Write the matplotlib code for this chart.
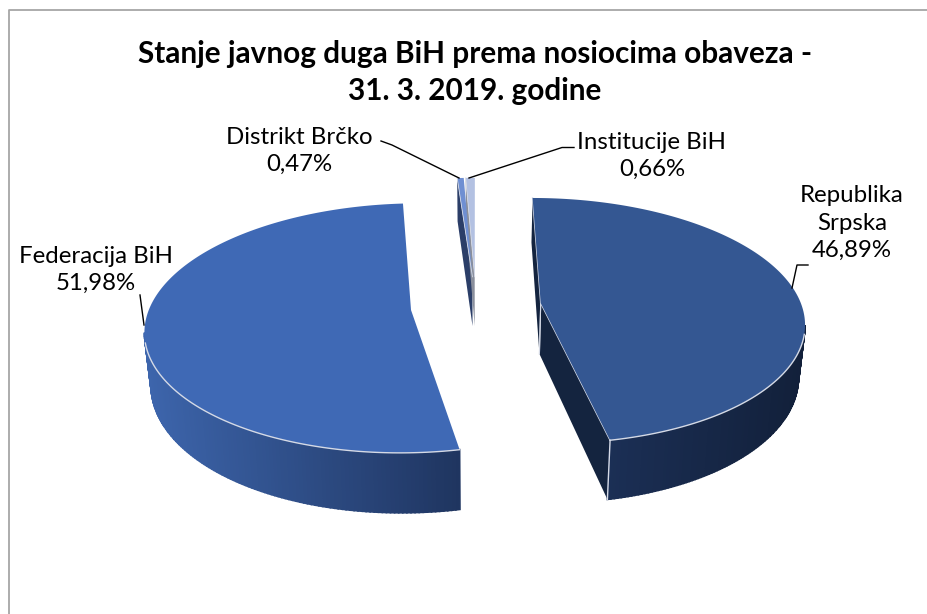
import numpy as np
import matplotlib
matplotlib.use("Agg")
import matplotlib.pyplot as plt
from matplotlib.colors import to_rgb

plt.rcParams['font.family'] = ['Lato', 'DejaVu Sans']

names = ['Republika\nSrpska', 'Federacija BiH', 'Distrikt Brčko', 'Institucije BiH']
values = [46.89, 51.98, 0.47, 0.66]
top_colors = ['#345792', '#3F69B5', '#6F8FD2', '#B3C1E2']
wall_left = ['#1B2F55', '#3D65AC', '#2B3E68', '#2B3E68']
wall_right = ['#12203A', '#1F3560', '#2B3E68', '#2B3E68']
cut_color = ['#14243F', '#1F3560', '#2B3E68', '#8A8F9C']

# pie geometry in pixels (the picture is a tilted pie with perspective)
cx, cy = 476, 306
rx, ry = 261, 121
depth = 51
explode = 0.25
persp = 0.144
bottom_shrink = 0.98


def project(X, Y, bottom=False):
    p = 1 / (1 + persp * Y)
    scale = bottom_shrink if bottom else 1
    x = cx + rx * X * p * scale
    y = cy - ry * Y * p
    if bottom:
        y = y + depth * p
    return x, y


fig = plt.figure(figsize=(9.28, 6.14), dpi=100)
ax = fig.add_axes([0, 0, 1, 1])
ax.set_xlim(0, 928)
ax.set_ylim(614, 0)
ax.axis('off')

# chart frame
ax.plot([9, 9, 928], [614, 10, 10], color='#A6A6A6', lw=1.3)

ax.text(475, 54, 'Stanje javnog duga BiH prema nosiocima obaveza -', ha='center', va='center',
        fontsize=21.4, fontweight='bold', color='black')
ax.text(475, 91, '31. 3. 2019. godine', ha='center', va='center',
        fontsize=21.4, fontweight='bold', color='black')

edge = '#D5DAE6'
for i in [2, 3, 0, 1]:
    a0 = np.radians(sum(values[:i]) * 3.6)
    a1 = np.radians(sum(values[:i + 1]) * 3.6)
    mid = (a0 + a1) / 2
    tipX, tipY = explode * np.sin(mid), explode * np.cos(mid)
    t = np.linspace(a0, a1, 240)
    X = tipX + np.sin(t)
    Y = tipY + np.cos(t)

    # cut faces
    for j in [0, -1]:
        xa, ya = project(np.array([tipX, X[j]]), np.array([tipY, Y[j]]))
        xb, yb = project(np.array([tipX, X[j]]), np.array([tipY, Y[j]]), bottom=True)
        visible = (i == 0) or (i == 2 and j == 0) or (i == 3 and j == 0)
        if visible:
            ax.fill([xa[0], xa[1], xb[1], xb[0]], [ya[0], ya[1], yb[1], yb[0]],
                    color=cut_color[i], lw=0, zorder=2 + i)
            if i == 0:
                ax.plot(xa, ya, color=edge, lw=1, zorder=4 + i)
                ax.plot([xa[0], xb[0]], [ya[0], yb[0]], color=edge, lw=0.8, zorder=4 + i)

    # outer wall with a left to right gradient, only below the widest point of the rim
    xt, yt = project(X, Y)
    xd, yd = project(X, Y, bottom=True)
    front = []
    if i == 0:
        front = np.arange(np.argmax(xt), len(xt))
    if i == 1:
        front = np.arange(0, np.argmin(xt) + 1)
    if len(front) > 1:
        left = xt[front].min()
        right = xt[front].max()
        c0 = np.array(to_rgb(wall_left[i]))
        c1 = np.array(to_rgb(wall_right[i]))
        for k in range(len(front) - 1):
            m, n = front[k], front[k + 1]
            f = ((xt[m] + xt[n]) / 2 - left) / (right - left)
            ax.fill([xt[m], xt[n], xd[n], xd[m]], [yt[m], yt[n], yd[n], yd[m]],
                    color=c0 + (c1 - c0) * f, lw=1.2, zorder=2 + i)
        # the light rim line fades out near the sides
        rim = front[6:] if i == 0 else front[:-6]
        ax.plot(xt[rim], yt[rim], color=edge, lw=1, zorder=5 + i)
    # corner between wall and cut
    if i == 0:
        ax.plot([xt[-1], xd[-1]], [yt[-1], yd[-1]], color=edge, lw=1, zorder=5 + i)

    # top face
    xtip, ytip = project(tipX, tipY)
    ax.fill(np.r_[xtip, xt], np.r_[ytip, yt], color=top_colors[i], lw=0, zorder=4 + i)
    if i >= 2:
        ax.plot(np.r_[xtip, xt[0]], np.r_[ytip, yt[0]], color=edge, lw=0.6, zorder=5 + i)

# labels
pct = [f'{v:.2f}'.replace('.', ',') + '%' for v in values]
label_x = [852, 96, 299, 652]
label_y = [223, 270, 151, 156]
for i in range(4):
    ax.text(label_x[i], label_y[i], names[i] + '\n' + pct[i], ha='center', va='center',
            fontsize=17.3, linespacing=1.36, color='black', zorder=12)

# leader lines
leader_x = [[808, 797, 792], [140, 144], [381, 392, 459], [574, 562, 469]]
leader_y = [[265, 265, 288], [295, 325], [141, 145, 178], [147.5, 147.5, 178]]
for lx, ly in zip(leader_x, leader_y):
    ax.plot(lx, ly, color='black', lw=1, zorder=11)

fig.savefig('out.png', dpi=100)
